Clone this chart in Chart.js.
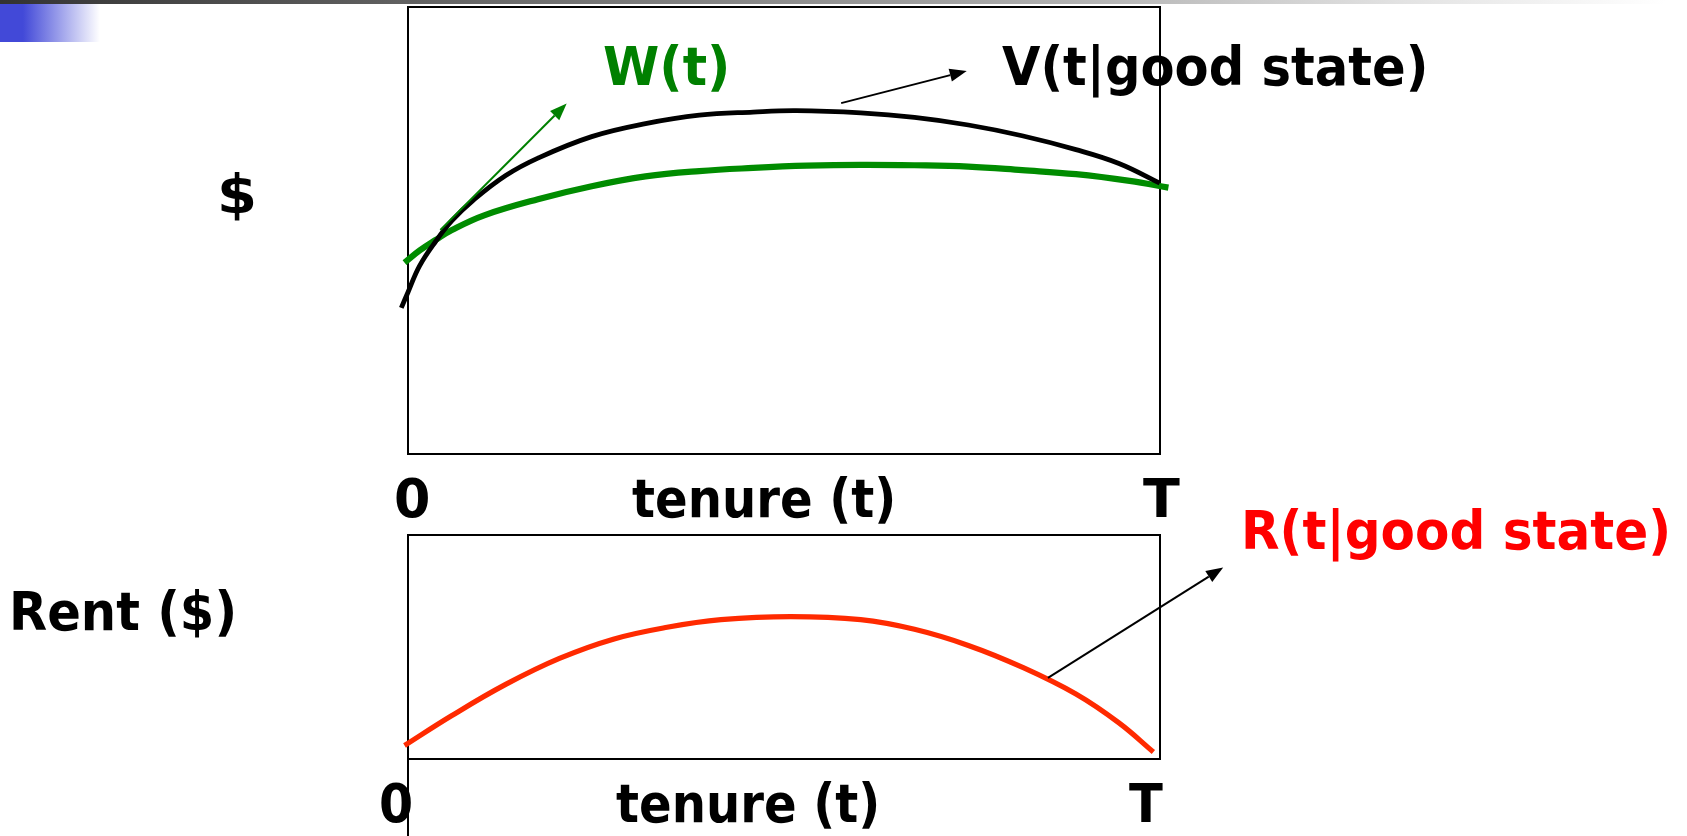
<!DOCTYPE html>
<html><head><meta charset="utf-8">
<script src="https://cdn.jsdelivr.net/npm/chart.js@4.4.1/dist/chart.umd.min.js"></script>
<style>
html,body{margin:0;padding:0;background:#fff;width:1687px;height:836px;overflow:hidden;position:relative;}
#topbar{position:absolute;left:0;top:0;width:1687px;height:4px;background:linear-gradient(to right,#333 0px,#777 600px,#b5b5b5 1100px,#e2e2e2 1400px,#fff 1665px);}
#blue{position:absolute;left:0;top:4px;width:100px;height:38px;background:linear-gradient(to right,#4249d8 0px,#4249d8 23px,#fff 100px);}
canvas{position:absolute;left:0;top:0;}
.lbl{position:absolute;white-space:nowrap;font-family:"DejaVu Sans",Verdana,sans-serif;font-weight:bold;line-height:1;transform-origin:0 0;}
</style></head><body>
<div id="topbar"></div><div id="blue"></div>
<canvas id="c1" width="1687" height="836"></canvas>
<canvas id="c2" width="1687" height="836"></canvas>
<script>
// ---- data ----
const xTickLabels = ['0', 'T'];
const xAxisTitle = 'tenure (t)';
const yTitleTop = '$';
const yTitleBottom = 'Rent ($)';
const seriesNames = ['W(t)', 'V(t|good state)', 'R(t|good state)'];

// V(t | good state)
const tenureV = [-0.089, 0, 0.154, 0.369, 0.584, 0.870, 1.299, 1.728, 2.443, 3.158, 3.874, 4.589, 5.162, 6.020, 6.735, 7.451, 8.166, 8.882, 9.454, 9.997];
const valueV  = [32.7, 36.2, 42.1, 47.6, 52.2, 56.8, 62.3, 66.2, 71.0, 73.9, 75.8, 76.5, 76.8, 76.3, 75.3, 73.6, 71.2, 68.1, 65.0, 60.6];
// W(t)
const tenureW = [-0.046, 0.154, 0.369, 0.584, 1.013, 1.728, 2.443, 3.158, 3.874, 4.589, 5.304, 6.020, 6.735, 7.451, 8.166, 8.882, 9.597, 10.112];
const valueW  = [42.8, 45.5, 47.9, 50.1, 53.4, 57.0, 59.9, 62.1, 63.3, 64.0, 64.5, 64.7, 64.6, 64.3, 63.5, 62.6, 61.1, 59.6];
// R(t | good state)
const tenureR = [-0.046, 0.584, 1.299, 2.014, 2.730, 3.445, 4.161, 5.090, 6.020, 6.735, 7.451, 8.166, 8.882, 9.454, 9.912];
const rentR   = [6.0, 19.4, 33.3, 44.9, 53.5, 58.8, 62.2, 63.6, 62.2, 57.9, 50.7, 41.0, 29.0, 16.1, 3.1];

// pointer arrows (data coordinates: [tenure, value])
const arrowW = [[0.43, 50.1], [2.11, 78.4]];
const arrowV = [[5.76, 78.5], [7.43, 85.7]];
const arrowR = [[8.51, 36.2], [10.84, 85.5]];

const T_MAX = 10, Y_MAX = 100;

function pts(xs, ys){ return xs.map((x,i)=>({x:x, y:ys[i]})); }

const boxPlugin = {
  id: 'box',
  beforeDatasetsDraw(chart, args, opts){
    const a = chart.chartArea, c = chart.ctx;
    c.save();
    c.strokeStyle = '#000'; c.lineWidth = 2;
    c.strokeRect(a.left, a.top, a.right - a.left, a.bottom - a.top);
    if (opts.extendLeft){
      c.beginPath(); c.moveTo(a.left, a.bottom); c.lineTo(a.left, chart.height); c.stroke();
    }
    c.restore();
  },
  afterDatasetsDraw(chart, args, opts){
    const c = chart.ctx, xs = chart.scales.x, ys = chart.scales.y;
    (opts.arrows || []).forEach(ar => {
      const x0 = xs.getPixelForValue(ar.pts[0][0]), y0 = ys.getPixelForValue(ar.pts[0][1]);
      const x1 = xs.getPixelForValue(ar.pts[1][0]), y1 = ys.getPixelForValue(ar.pts[1][1]);
      const ang = Math.atan2(y1 - y0, x1 - x0), L = 17, H = 6.5;
      const bx = x1 - L*Math.cos(ang), by = y1 - L*Math.sin(ang);
      c.save();
      c.strokeStyle = ar.color; c.fillStyle = ar.color; c.lineWidth = 2;
      c.beginPath(); c.moveTo(x0, y0); c.lineTo(bx, by); c.stroke();
      c.beginPath(); c.moveTo(x1, y1);
      c.lineTo(bx + H*Math.sin(ang), by - H*Math.cos(ang));
      c.lineTo(bx - H*Math.sin(ang), by + H*Math.cos(ang));
      c.closePath(); c.fill();
      c.restore();
    });
  }
};

function baseOptions(padding, boxOpts){
  return {
    responsive: false, animation: false, events: [],
    layout: { padding: padding },
    scales: {
      x: { type: 'linear', min: 0, max: T_MAX, display: false },
      y: { type: 'linear', min: 0, max: Y_MAX, display: false }
    },
    elements: { point: { radius: 0 }, line: { tension: 0.4, borderCapStyle: 'butt', borderJoinStyle: 'round' } },
    plugins: { legend: { display: false }, tooltip: { enabled: false }, box: boxOpts }
  };
}

new Chart(document.getElementById('c1'), {
  type: 'line',
  data: { datasets: [
    { label: seriesNames[1], data: pts(tenureV, valueV), borderColor: '#000', borderWidth: 4.8, clip: false, fill: false },
    { label: seriesNames[0], data: pts(tenureW, valueW), borderColor: '#008c00', borderWidth: 6.2, clip: false, fill: false }
  ]},
  options: baseOptions({left: 408, top: 7, right: 527, bottom: 382},
    { arrows: [ {pts: arrowW, color: '#008000'}, {pts: arrowV, color: '#000'} ] }),
  plugins: [boxPlugin]
});

new Chart(document.getElementById('c2'), {
  type: 'line',
  data: { datasets: [
    { label: seriesNames[2], data: pts(tenureR, rentR), borderColor: '#ff2a00', borderWidth: 5.2, clip: false, fill: false }
  ]},
  options: baseOptions({left: 408, top: 535, right: 527, bottom: 77},
    { extendLeft: true, arrows: [ {pts: arrowR, color: '#000'} ] }),
  plugins: [boxPlugin]
});

// ---- text labels (real text) ----
const labels = [
  {text: seriesNames[0], color: '#008000', left: 604, right: 727, base: 86},
  {text: seriesNames[1], color: '#000', left: 1002, right: 1425, base: 86},
  {text: seriesNames[2], color: '#ff0000', left: 1245, right: 1668, base: 550},
  {text: yTitleTop, color: '#000', left: 221, right: 253, base: 214},
  {text: yTitleBottom, color: '#000', left: 13, right: 234, base: 631},
  {text: xTickLabels[0], color: '#000', left: 396, right: 428, base: 518},
  {text: xAxisTitle, color: '#000', left: 632, right: 893, base: 518},
  {text: xTickLabels[1], color: '#000', left: 1143, right: 1180, base: 518},
  {text: xTickLabels[0], color: '#000', left: 381, right: 411, base: 823},
  {text: xAxisTitle, color: '#000', left: 616, right: 877, base: 823},
  {text: xTickLabels[1], color: '#000', left: 1129, right: 1163, base: 823}
];
const FS = 54;
const mctx = document.createElement('canvas').getContext('2d');
mctx.font = 'bold ' + FS + 'px "DejaVu Sans"';
labels.forEach(l => {
  const m = mctx.measureText(l.text);
  const abl = m.actualBoundingBoxLeft, abr = m.actualBoundingBoxRight;
  const ink = abl + abr;
  const s = (l.right - l.left) / ink;
  const d = document.createElement('div');
  d.className = 'lbl';
  d.textContent = l.text;
  d.style.color = l.color;
  d.style.fontSize = FS + 'px';
  d.style.left = (l.left + abl * s) + 'px';
  d.style.top = (l.base - 0.846 * FS) + 'px';
  d.style.transform = 'scaleX(' + s.toFixed(4) + ')';
  document.body.appendChild(d);
});
</script>
</body></html>
